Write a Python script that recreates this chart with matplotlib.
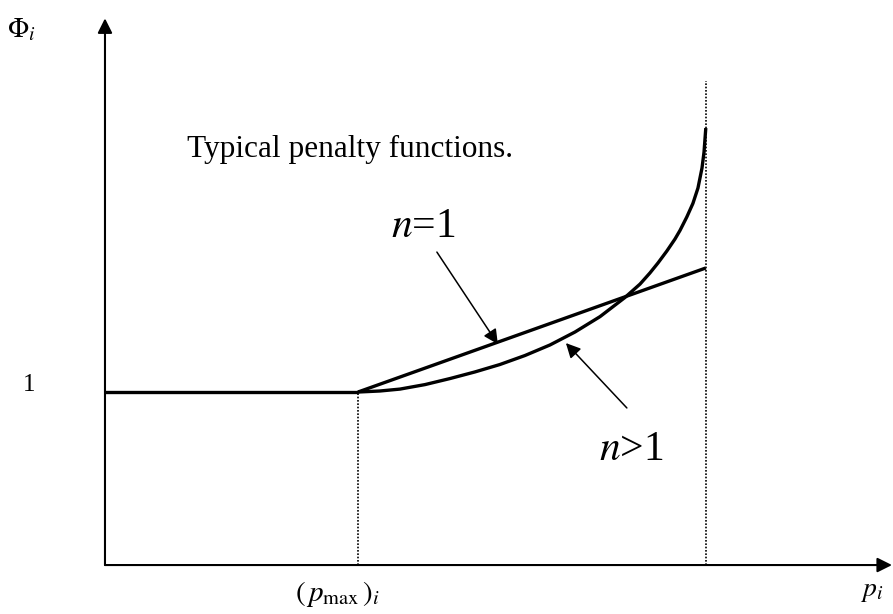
import matplotlib
matplotlib.use("Agg")
import matplotlib.pyplot as plt

plt.rcParams["font.family"] = ["Liberation Serif", "DejaVu Serif"]
plt.rcParams["mathtext.fontset"] = "stix"

# penalty onset and limit on the p axis
p_max = 1.0
p_end = 2.375

# n = 1: linear penalty beyond p_max
lin_p = [p_max, p_end]
lin_phi = [1.0, 1.717]

# n > 1: curved penalty, read point by point
curve_p = [1.000, 1.087, 1.166, 1.265, 1.364, 1.462, 1.561, 1.660, 1.759,
           1.858, 1.957, 2.055, 2.115, 2.154, 2.186, 2.221, 2.253, 2.273,
           2.300, 2.324, 2.344, 2.360, 2.368, 2.375]
curve_phi = [1.000, 1.006, 1.017, 1.043, 1.078, 1.116, 1.159, 1.211, 1.272,
             1.347, 1.436, 1.546, 1.624, 1.688, 1.746, 1.815, 1.884, 1.934,
             2.012, 2.090, 2.179, 2.295, 2.387, 2.526]

fig = plt.figure(figsize=(8.93, 6.14), dpi=100)
ax = fig.add_axes([0, 0, 1, 1])
ax.set_xlim(-0.415, 3.115)
ax.set_ylim(-0.283, 3.266)
ax.axis("off")

axis_arrow = dict(arrowstyle="-|>", color="black", lw=1.5,
                  mutation_scale=22, shrinkA=0, shrinkB=0)
note_arrow = dict(arrowstyle="-|>", color="black", lw=1.1,
                  mutation_scale=22, shrinkA=0, shrinkB=0)

# axes with arrow heads
ax.annotate("", xy=(3.111, 0), xytext=(0, 0), arrowprops=axis_arrow)
ax.annotate("", xy=(0, 3.16), xytext=(0, 0), arrowprops=axis_arrow)

# dotted guides
ax.plot([p_max, p_max], [0, 1.0], color="black", lw=1.2, ls=(0, (1, 1)))
ax.plot([p_end, p_end], [0, 2.80], color="black", lw=1.2, ls=(0, (1, 1)))

# penalty functions
ax.plot([0, p_max], [1.0, 1.0], color="black", lw=2.4, solid_capstyle="butt")
ax.plot(lin_p, lin_phi, color="black", lw=2.4, solid_capstyle="butt")
ax.plot(curve_p, curve_phi, color="black", lw=2.4, solid_capstyle="butt",
        solid_joinstyle="round")

# labels
ax.text(-0.33, 3.09, r"$\Phi_i$", fontsize=20, ha="center", va="center")
ax.text(-0.30, 1.04, "1", fontsize=18, ha="center", va="center")
ax.text(0.92, -0.17, r"$\left(\,p_{\mathrm{max}}\,\right)_i$", fontsize=21,
        ha="center", va="center")
ax.text(3.03, -0.155, r"$p_i$", fontsize=20, ha="center", va="center")
ax.text(0.326, 2.358, "Typical penalty functions.", fontsize=22.5,
        ha="left", va="baseline")

# n annotations
ax.text(1.130, 1.896, r"$n$=1", fontsize=30, ha="left", va="baseline")
ax.annotate("", xy=(1.553, 1.277), xytext=(1.312, 1.809),
            arrowprops=note_arrow)
ax.text(1.953, 0.607, r"$n$>1", fontsize=30, ha="left", va="baseline")
ax.annotate("", xy=(1.822, 1.283), xytext=(2.063, 0.908),
            arrowprops=note_arrow)

fig.savefig("out.png", dpi=100)
